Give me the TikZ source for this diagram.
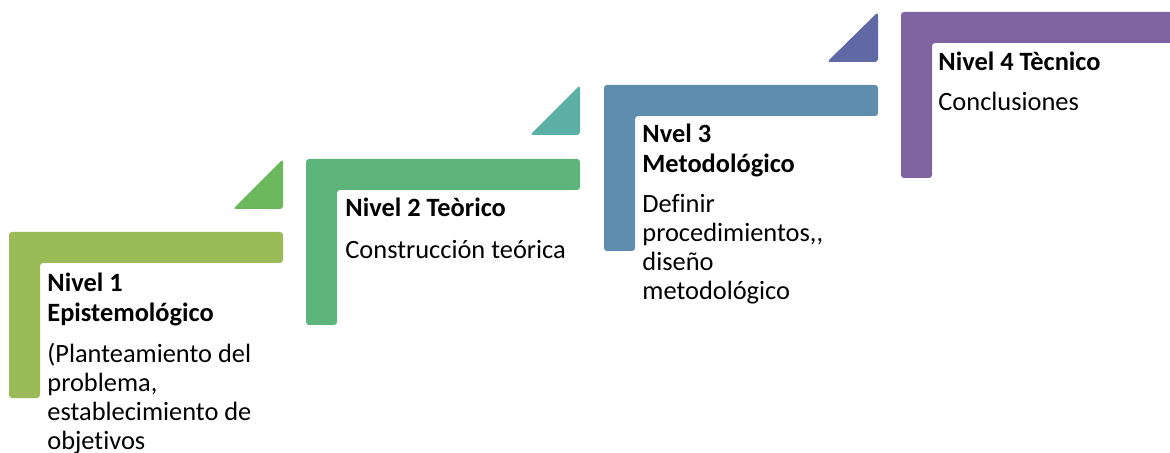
\documentclass[tikz,border=0pt]{standalone}
\usepackage{fontspec}
\setmainfont{Carlito}[Ligatures={TeX,NoCommon}]
\usepackage{tikz}
\usetikzlibrary{calc}
\definecolor{levelA}{HTML}{9BBB59}
\definecolor{arrowA}{HTML}{6AB75C}
\definecolor{levelB}{HTML}{5DB57C}
\definecolor{arrowB}{HTML}{5CAFA5}
\definecolor{levelC}{HTML}{5F8DAE}
\definecolor{arrowC}{HTML}{6068A6}
\definecolor{levelD}{HTML}{8064A2}
\newcommand{\levtext}[1]{\begin{tabular}[t]{@{}l@{}}#1\end{tabular}}
\tikzset{
  stair/.style={rounded corners=1.5pt},
  body/.style={anchor=base west,inner sep=0pt,font=\fontsize{13.2}{14.4}\selectfont},
  title/.style={anchor=base west,inner sep=0pt,font=\fontsize{13.2}{14.6}\selectfont\bfseries}
}
\begin{document}
\begin{tikzpicture}[line cap=round,line join=round,x=0.5pt,y=-0.5pt]
\useasboundingbox (0,0) rectangle (1170,453);
% steps
\fill[stair,levelA] (9,232) -- (283,232) -- (283,263) -- (40,263) -- (40,398) -- (9,398) -- cycle;
\fill[stair,arrowA] (233,209) -- (283,209) -- (283,159) -- cycle;
\fill[stair,levelB] (306,159) -- (580,159) -- (580,190) -- (337,190) -- (337,325) -- (306,325) -- cycle;
\fill[stair,arrowB] (530,135) -- (580,135) -- (580,85) -- cycle;
\fill[stair,levelC] (604,85) -- (878,85) -- (878,116) -- (635,116) -- (635,251) -- (604,251) -- cycle;
\fill[stair,arrowC] (827,62) -- (878,62) -- (878,12) -- cycle;
\fill[stair,levelD] (901,12) -- (1180,12) -- (1180,43) -- (932,43) -- (932,178) -- (901,178) -- cycle;
% labels
\node[title] (t1) at (47,292) {\levtext{Nivel 1\\Epistemológico}};
\node[body] (b1) at (47,363) {\levtext{(Planteamiento del\\problema,\\establecimiento de\\objetivos}};
\node[title] (t2) at (345,217) {Nivel 2 Teòrico};
\node[body] (b2) at (345,259) {Construcción teórica};
\node[title] (t3) at (642,143) {\levtext{Nvel 3\\Metodológico}};
\node[body] (b3) at (642,213) {\levtext{Definir\\procedimientos,{},\\diseño\\metodológico}};
\node[title] (t4) at (938,71) {Nivel 4 Tècnico};
\node[body] (b4) at (938,111) {Conclusiones};
\end{tikzpicture}
\end{document}
